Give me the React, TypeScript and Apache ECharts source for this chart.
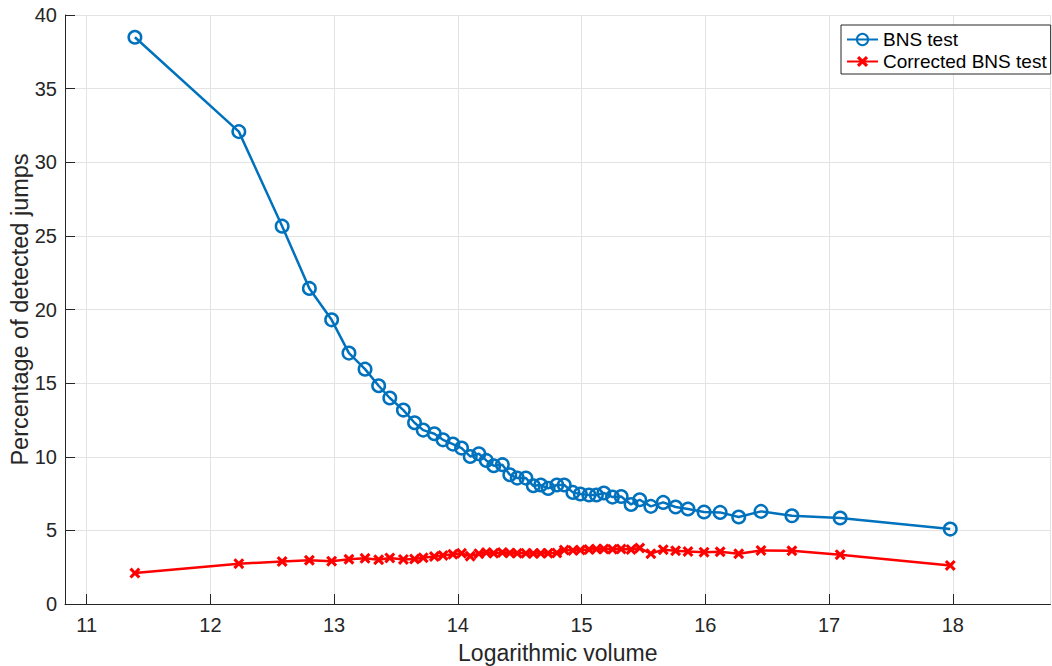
import React, { useEffect, useRef } from "react";
import * as echarts from "echarts";

const xValues = [
  11.39, 12.23, 12.58, 12.8, 12.98, 13.12, 13.25, 13.36, 13.45, 13.56,
  13.65, 13.72, 13.81, 13.88, 13.96, 14.03, 14.1, 14.17, 14.23, 14.29,
  14.36, 14.42, 14.48, 14.55, 14.61, 14.67, 14.73, 14.8, 14.86, 14.93,
  14.99, 15.06, 15.12, 15.18, 15.25, 15.32, 15.4, 15.47, 15.56, 15.66,
  15.76, 15.86, 15.99, 16.12, 16.27, 16.45, 16.7, 17.09, 17.98,
];

const bnsValues = [
  38.49, 32.08, 25.66, 21.43, 19.3, 17.04, 15.95, 14.82, 13.99, 13.17,
  12.31, 11.81, 11.56, 11.15, 10.86, 10.59, 10.02, 10.2, 9.75, 9.39,
  9.46, 8.78, 8.55, 8.55, 8.03, 8.08, 7.85, 8.08, 8.08, 7.58,
  7.47, 7.4, 7.4, 7.54, 7.26, 7.3, 6.76, 7.08, 6.63, 6.9,
  6.59, 6.45, 6.25, 6.22, 5.91, 6.29, 5.99, 5.84, 5.09,
];

const correctedValues = [
  2.1, 2.74, 2.89, 2.97, 2.91, 3.04, 3.1, 3.01, 3.13, 3.03,
  3.05, 3.14, 3.23, 3.3, 3.38, 3.44, 3.25, 3.42, 3.5, 3.45,
  3.5, 3.46, 3.45, 3.44, 3.43, 3.44, 3.45, 3.47, 3.66, 3.64,
  3.66, 3.7, 3.73, 3.74, 3.72, 3.74, 3.7, 3.8, 3.42, 3.69,
  3.62, 3.57, 3.52, 3.55, 3.41, 3.64, 3.62, 3.35, 2.62,
];

const seriesNames = ["BNS test", "Corrected BNS test"];
const xAxisTitle = "Logarithmic volume";
const yAxisTitle = "Percentage of detected jumps";

const FONT = "'Liberation Sans', Arial, Helvetica, sans-serif";
const TEXT = "#262626";
const GRID = "#e3e3e3";
const BLUE = "#0072BD";
const RED = "#FF0000";
const X_MARK =
  "path://M0,2L2,0L5,3L8,0L10,2L7,5L10,8L8,10L5,7L2,10L0,8L3,5Z";

export default function App() {
  const ref = useRef<HTMLDivElement>(null);

  useEffect(() => {
    document.body.style.margin = "0";
    if (!ref.current) return;
    const chart = echarts.init(ref.current, undefined, { renderer: "svg" });

    const option = {
      animation: false,
      backgroundColor: "#ffffff",
      textStyle: { fontFamily: FONT, color: TEXT },
      grid: {
        left: 65,
        right: 1.5,
        top: 15,
        bottom: 62,
        containLabel: false,
        outerBoundsMode: "none",
      },
      legend: {
        left: 841,
        top: 25,
        orient: "vertical",
        backgroundColor: "#ffffff",
        borderColor: TEXT,
        borderWidth: 1,
        borderRadius: 0,
        padding: [5, 4, 3, 5],
        itemGap: 3,
        itemWidth: 31,
        itemHeight: 14,
        textStyle: { fontFamily: FONT, fontSize: 19, color: "#000000" },
        data: seriesNames,
      },
      xAxis: {
        type: "value",
        min: 10.825,
        max: 18.79,
        splitNumber: 8,
        name: xAxisTitle,
        nameLocation: "middle",
        nameGap: 37,
        nameTextStyle: { fontFamily: FONT, fontSize: 23, color: TEXT },
        axisLine: { show: true, onZero: false, lineStyle: { color: TEXT, width: 1 } },
        axisTick: { show: true, inside: true, length: 10, lineStyle: { color: TEXT } },
        axisLabel: {
          fontFamily: FONT,
          fontSize: 20,
          color: TEXT,
          margin: 11,
          showMinLabel: false,
          showMaxLabel: false,
        },
        splitLine: { show: true, lineStyle: { color: GRID, width: 1 } },
      },
      yAxis: {
        type: "value",
        min: 0,
        max: 40,
        interval: 5,
        name: yAxisTitle,
        nameLocation: "middle",
        nameGap: 33,
        nameMoveOverlap: false,
        nameTextStyle: { fontFamily: FONT, fontSize: 23.5, color: TEXT },
        axisLine: { show: true, onZero: false, lineStyle: { color: TEXT, width: 1 } },
        axisTick: { show: true, inside: true, length: 10, lineStyle: { color: TEXT } },
        axisLabel: { fontFamily: FONT, fontSize: 20, color: TEXT, margin: 8 },
        splitLine: { show: true, lineStyle: { color: GRID, width: 1 } },
      },
      series: [
        {
          name: seriesNames[0],
          type: "line",
          data: xValues.map((x, i) => [x, bnsValues[i]]),
          symbol: "circle",
          symbolSize: 12.5,
          showAllSymbol: true,
          lineStyle: { color: BLUE, width: 2.5 },
          itemStyle: { color: "rgba(255,255,255,0)", borderColor: BLUE, borderWidth: 2.5 },
          emphasis: { disabled: true },
        },
        {
          name: seriesNames[1],
          type: "line",
          data: xValues.map((x, i) => [x, correctedValues[i]]),
          symbol: X_MARK,
          symbolSize: 11,
          showAllSymbol: true,
          lineStyle: { color: RED, width: 2.5 },
          itemStyle: { color: RED },
          emphasis: { disabled: true },
        },
      ],
    };

    chart.setOption(option as any);
    return () => {
      chart.dispose();
    };
  }, []);

  return <div ref={ref} style={{ width: 1052, height: 666 }} />;
}
